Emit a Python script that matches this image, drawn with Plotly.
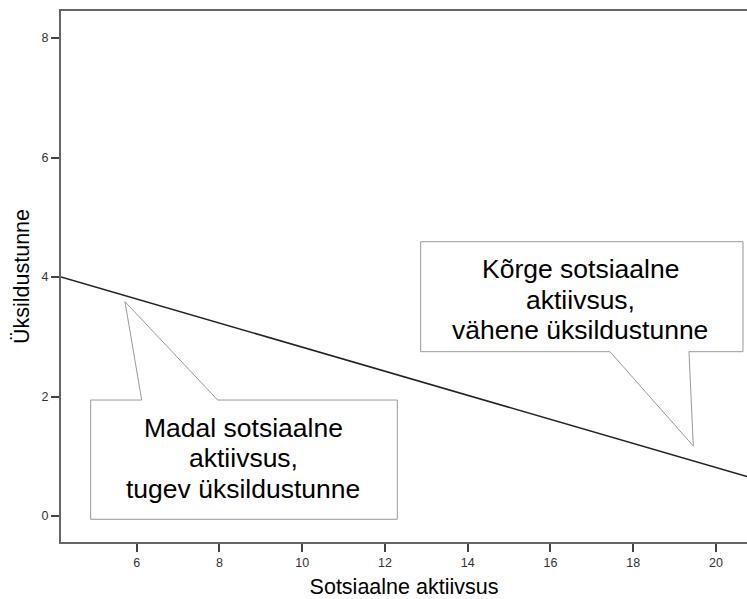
import plotly.graph_objects as go

# ---- data ----
activity = [4.171, 20.749]          # Sotsiaalne aktiivsus (x)
loneliness = [4.00, 0.66]           # Üksildustunne (y), fitted line
x_ticks = [6, 8, 10, 12, 14, 16, 18, 20]
y_ticks = [0, 2, 4, 6, 8]
left_text = ["Madal sotsiaalne", "aktiivsus,", "tugev üksildustunne"]
right_text = ["Kõrge sotsiaalne", "aktiivsus,", "vähene üksildustunne"]

FONT = "Liberation Sans, Arial, sans-serif"

fig = go.Figure()
fig.add_trace(go.Scatter(x=activity, y=loneliness, mode="lines",
                         line=dict(color="#222222", width=1.5),
                         showlegend=False, hoverinfo="skip"))

# callout shapes (data coordinates)
left_path = ("M 4.888,1.941 L 6.121,1.941 L 5.717,3.587 L 7.957,1.941 "
             "L 12.298,1.941 L 12.298,-0.055 L 4.888,-0.055 Z")
right_path = ("M 12.863,4.591 L 20.652,4.591 L 20.652,2.750 L 19.347,2.750 "
              "L 19.451,1.172 L 17.438,2.750 L 12.863,2.750 Z")
for p in (left_path, right_path):
    fig.add_shape(type="path", path=p, xref="x", yref="y",
                  line=dict(color="#999999", width=1), fillcolor="white",
                  layer="above")

left_ys = [1.473, 0.971, 0.452]
right_ys = [4.134, 3.615, 3.113]
for txt, yy in zip(left_text, left_ys):
    fig.add_annotation(x=8.576, y=yy, xref="x", yref="y", text=txt,
                       showarrow=False, xanchor="center", yanchor="middle",
                       font=dict(family=FONT, size=26.5, color="#000000"))
for txt, yy in zip(right_text, right_ys):
    fig.add_annotation(x=16.725, y=yy, xref="x", yref="y", text=txt,
                       showarrow=False, xanchor="center", yanchor="middle",
                       font=dict(family=FONT, size=26.5, color="#000000"))

fig.update_layout(
    width=747, height=599,
    margin=dict(l=61, r=0, t=11, b=57),
    paper_bgcolor="white", plot_bgcolor="white",
    font=dict(family=FONT),
    xaxis=dict(range=[4.171, 20.749], tickvals=x_ticks, showgrid=False,
               zeroline=False, showline=True, linecolor="#666666", linewidth=2,
               mirror=True, ticks="outside", ticklen=8, tickwidth=1.5,
               tickcolor="#444444",
               tickfont=dict(family=FONT, size=12.5, color="#333333"),
               title=dict(text="Sotsiaalne aktiivsus", standoff=14,
                          font=dict(family=FONT, size=21.5, color="#000000"))),
    yaxis=dict(range=[-0.435, 8.452], tickvals=y_ticks, showgrid=False,
               zeroline=False, showline=True, linecolor="#666666", linewidth=2,
               ticks="outside", ticklen=8, tickwidth=1.5, tickcolor="#444444",
               tickfont=dict(family=FONT, size=12.5, color="#333333"),
               title=dict(text="Üksildustunne", standoff=6,
                          font=dict(family=FONT, size=21.5, color="#000000"))),
)

# remove the default page margin so the 747x599 figure fills the window exactly
fig.write_html("out.html",
               config={"displayModeBar": False},
               post_script="document.body.style.margin='0';"
                           "document.body.style.overflow='hidden';")
